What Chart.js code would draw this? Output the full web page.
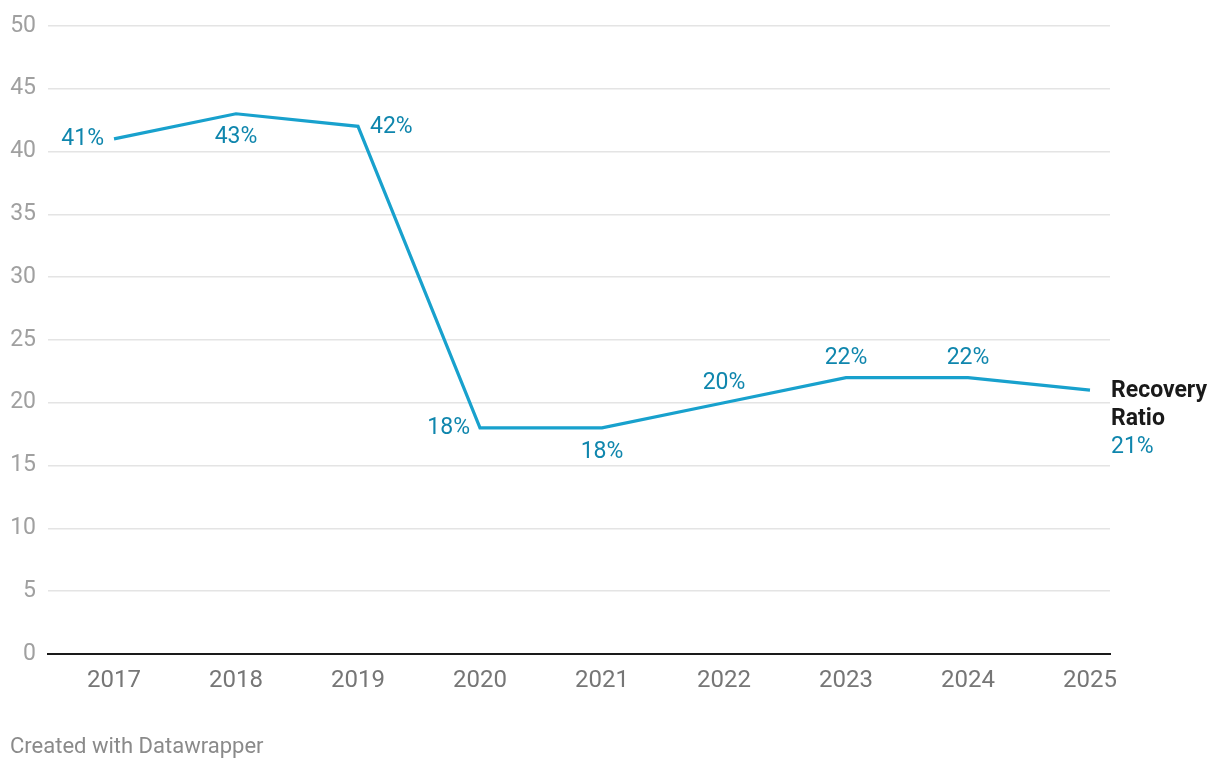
<!DOCTYPE html>
<html>
<head>
<meta charset="utf-8">
<script src="https://cdn.jsdelivr.net/npm/chart.js@4"></script>
<style>
  html, body { margin: 0; padding: 0; background: #fff; }
  #wrap { position: relative; width: 1220px; height: 770px; }
  #footer {
    position: absolute; left: 10px; top: 733px;
    font: 22px Roboto, sans-serif; line-height: 26px; color: #8a8a8a;
  }
</style>
</head>
<body>
<div id="wrap">
  <canvas id="chart" width="1220" height="770"></canvas>
  <div id="footer">Created with Datawrapper</div>
</div>
<script>
// data
const years = [2017, 2018, 2019, 2020, 2021, 2022, 2023, 2024, 2025];
const recoveryRatio = [41, 43, 42, 18, 18, 20, 22, 22, 21];
const yTicks = [0, 5, 10, 15, 20, 25, 30, 35, 40, 45, 50];
const seriesName = ['Recovery', 'Ratio'];

// where each value label sits relative to its point
const labelPlacement = ['left', 'below', 'right', 'left', 'below', 'above', 'above', 'above', 'end'];

const LINE_COLOR = '#18a1cd';
const LABEL_COLOR = '#0f86ad';

const valueLabels = {
    id: 'valueLabels',
    afterDatasetsDraw(chart) {
        const ctx = chart.ctx;
        const meta = chart.getDatasetMeta(0);
        ctx.save();
        ctx.font = '23px Roboto, sans-serif';
        ctx.textBaseline = 'middle';
        meta.data.forEach((pt, i) => {
            const txt = recoveryRatio[i] + '%';
            const pos = labelPlacement[i];
            ctx.fillStyle = LABEL_COLOR;
            if (pos === 'left') {
                ctx.textAlign = 'right';
                ctx.fillText(txt, pt.x - 10, pt.y);
            } else if (pos === 'right') {
                ctx.textAlign = 'left';
                ctx.fillText(txt, pt.x + 12, pt.y + 1);
            } else if (pos === 'below') {
                ctx.textAlign = 'center';
                ctx.fillText(txt, pt.x, pt.y + 24);
            } else if (pos === 'above') {
                ctx.textAlign = 'center';
                ctx.fillText(txt, pt.x, pt.y - 19);
            } else {
                ctx.textAlign = 'left';
                ctx.font = 'bold 23px Roboto, sans-serif';
                ctx.fillStyle = '#1a1a1a';
                ctx.fillText(seriesName[0], pt.x + 21, pt.y + 1);
                ctx.fillText(seriesName[1], pt.x + 21, pt.y + 29);
                ctx.font = '23px Roboto, sans-serif';
                ctx.fillStyle = LABEL_COLOR;
                ctx.fillText(txt, pt.x + 21, pt.y + 57);
            }
        });
        ctx.restore();
    }
};

new Chart(document.getElementById('chart'), {
    type: 'line',
    data: {
        datasets: [{
            data: years.map((y, i) => ({ x: y, y: recoveryRatio[i] })),
            borderColor: LINE_COLOR,
            borderWidth: 3.2,
            pointRadius: 0,
            tension: 0,
            clip: false
        }]
    },
    options: {
        responsive: false,
        animation: false,
        layout: { padding: { top: 24, right: 110, left: 0, bottom: 0 } },
        plugins: { legend: { display: false }, tooltip: { enabled: false } },
        scales: {
            x: {
                type: 'linear',
                min: 2016.459,
                max: 2025.164,
                afterBuildTicks: (scale) => { scale.ticks = years.map(v => ({ value: v })); },
                afterFit: (scale) => { scale.height = 116; },
                grid: { display: false, drawTicks: false },
                border: { display: true, color: '#1a1a1a', width: 2 },
                ticks: {
                    padding: 13,
                    color: '#767676',
                    font: { family: 'Roboto', size: 24 },
                    callback: (v) => String(v),
                    maxRotation: 0,
                    autoSkip: false
                }
            },
            y: {
                min: 0,
                max: 50,
                afterBuildTicks: (scale) => { scale.ticks = yTicks.map(v => ({ value: v })); },
                afterFit: (scale) => { scale.width = 48; },
                grid: { color: '#e4e4e4', lineWidth: 1.5, drawTicks: false },
                border: { display: false },
                ticks: {
                    padding: 12,
                    color: '#a0a0a0',
                    font: { family: 'Roboto', size: 23 },
                    callback: (v) => String(v)
                }
            }
        }
    },
    plugins: [valueLabels]
});
</script>
</body>
</html>
